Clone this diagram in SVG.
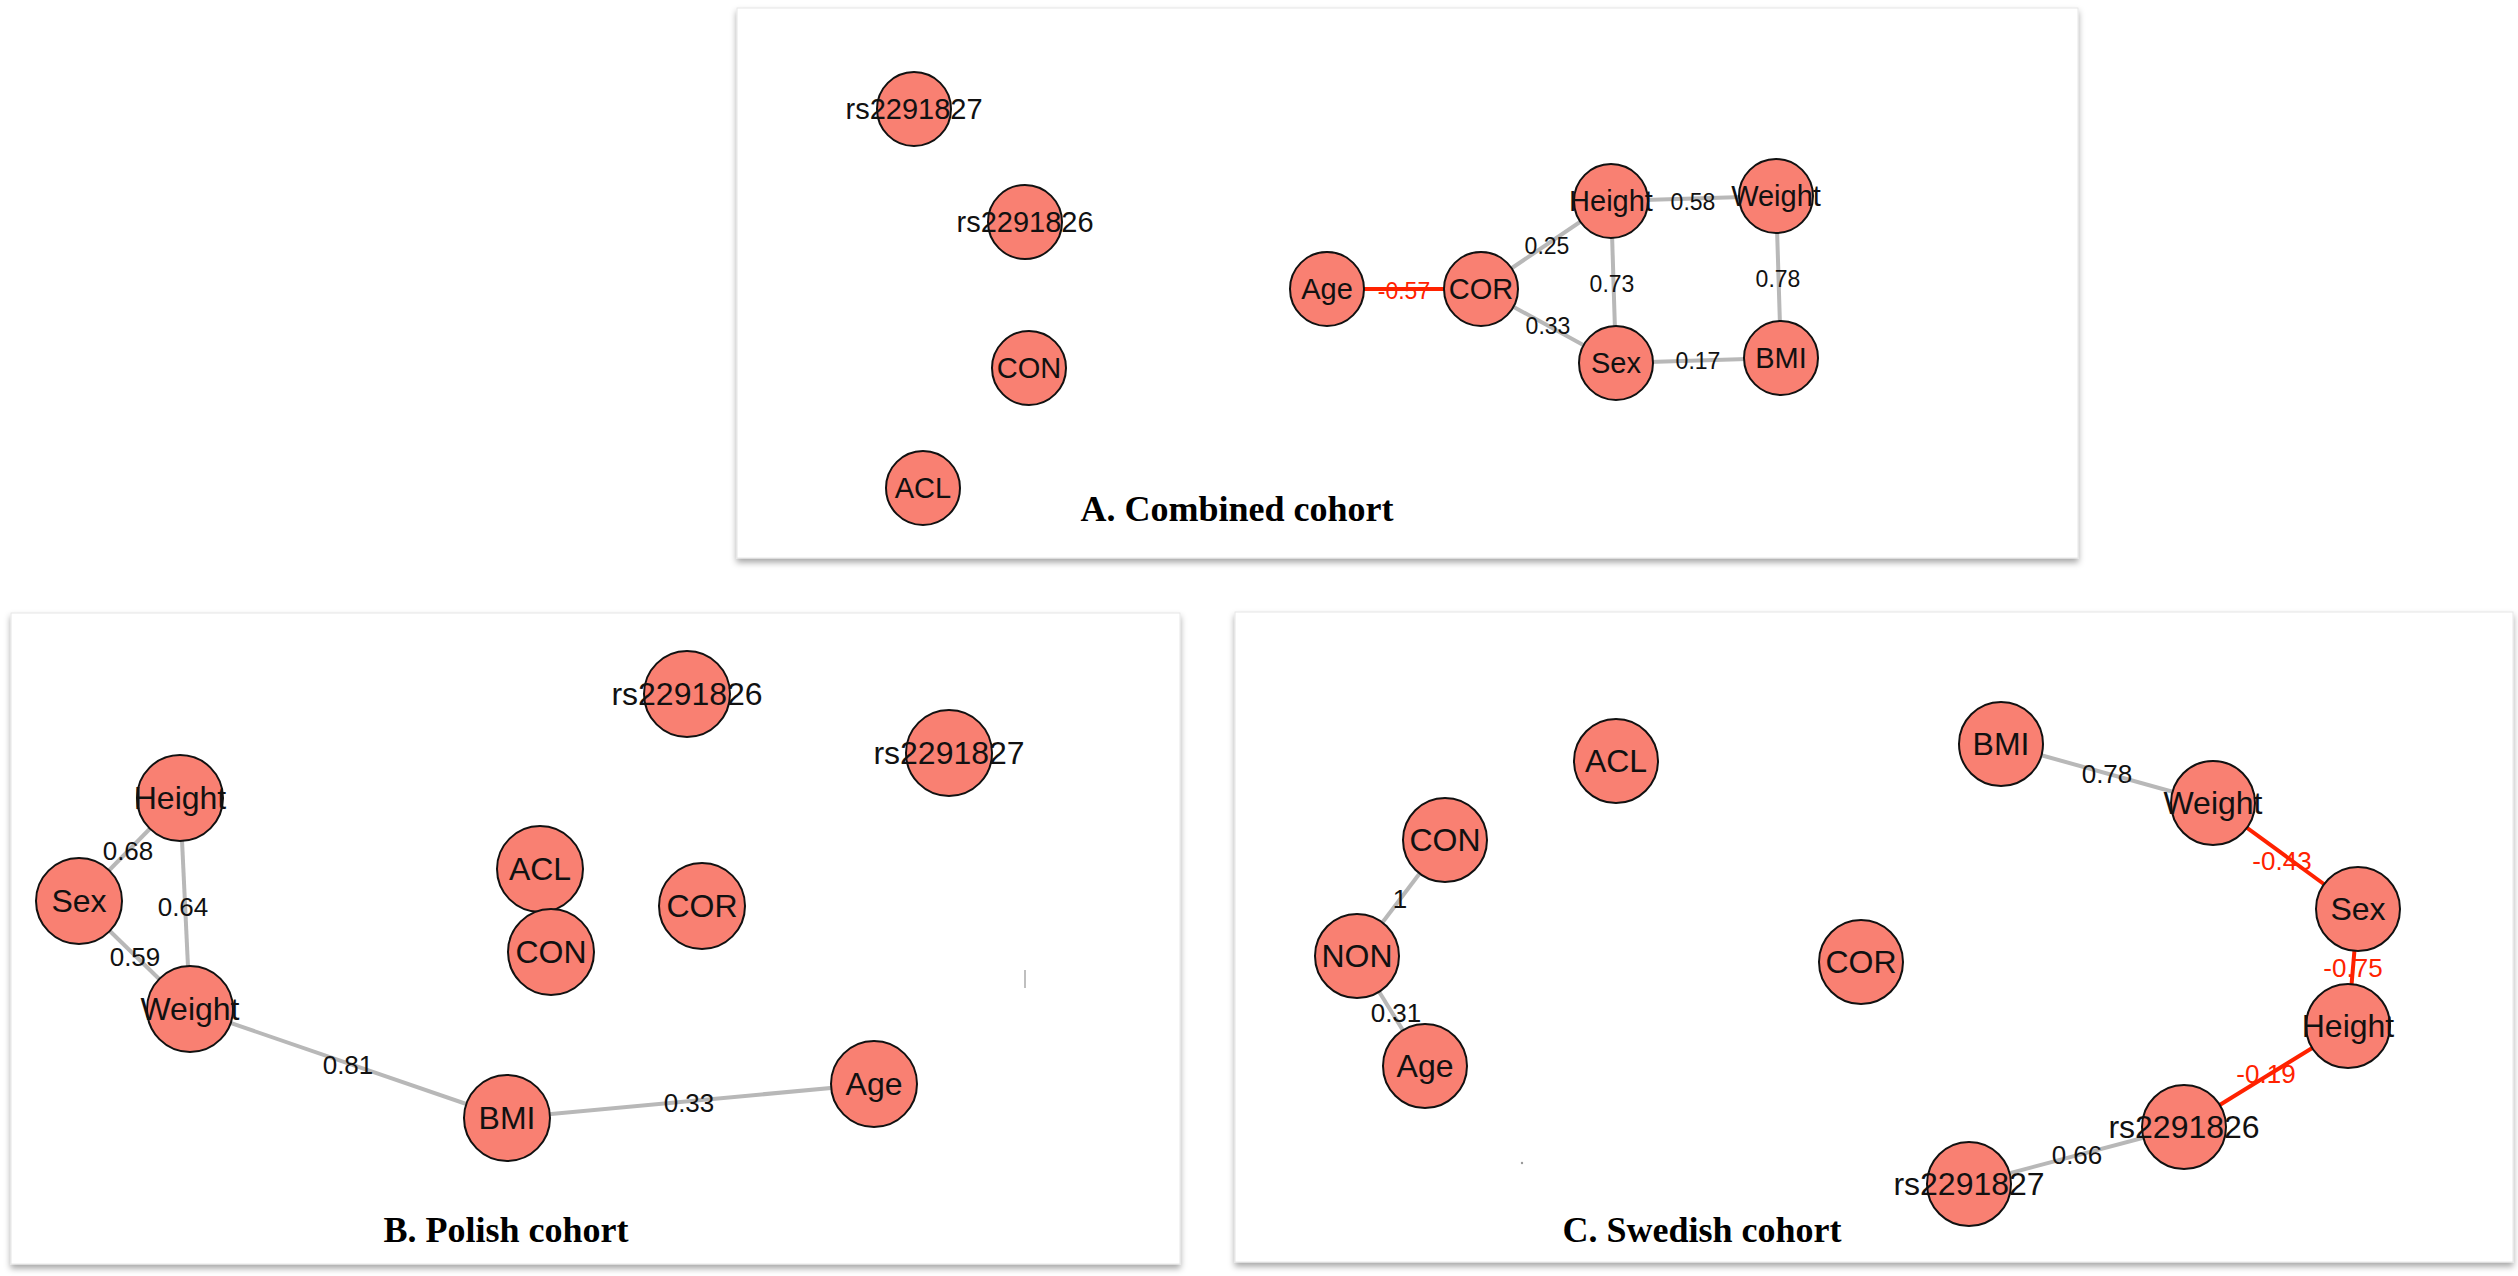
<svg xmlns="http://www.w3.org/2000/svg" width="2518" height="1276" viewBox="0 0 2518 1276">
<defs>
<filter id="sh" x="-5%" y="-5%" width="110%" height="110%"><feDropShadow dx="0" dy="4" stdDeviation="3" flood-color="#000" flood-opacity="0.35"/></filter>
</defs>
<style>
.panel{fill:#fff;stroke:#e6e6e6;stroke-width:1}
.n circle{fill:#f98072;stroke:#111;stroke-width:2}
.n text{font-family:"Liberation Sans",Arial,sans-serif;text-anchor:middle;dominant-baseline:central;fill:#111}
.a text{font-size:29px}.b text{font-size:32px}
.e{stroke:#b8b8b8;stroke-width:4;fill:none}
.r{stroke:#ff2200;stroke-width:4;fill:none}
.lbl{font-family:"Liberation Sans",Arial,sans-serif;font-size:23px;text-anchor:middle;dominant-baseline:central;fill:#111}
.lr{fill:#ff2200}
.title{font-family:"Liberation Serif","Times New Roman",serif;font-weight:bold;font-size:36px;text-anchor:middle;fill:#000}
</style>
<rect width="2518" height="1276" fill="#fff"/>
<rect class="panel" x="737" y="8" width="1341" height="550" filter="url(#sh)"/>
<rect class="panel" x="11" y="613" width="1169" height="651" filter="url(#sh)"/>
<rect class="panel" x="1235" y="612" width="1278" height="650" filter="url(#sh)"/>
<g id="connectors">
<line class="r" x1="1327" y1="289" x2="1481" y2="289"/>
<line class="e" x1="1481" y1="289" x2="1611" y2="201"/>
<line class="e" x1="1481" y1="289" x2="1616" y2="363"/>
<line class="e" x1="1611" y1="201" x2="1776" y2="196"/>
<line class="e" x1="1611" y1="201" x2="1616" y2="363"/>
<line class="e" x1="1776" y1="196" x2="1781" y2="358"/>
<line class="e" x1="1616" y1="363" x2="1781" y2="358"/>
<line class="e" x1="180" y1="798" x2="79" y2="901"/>
<line class="e" x1="180" y1="798" x2="190" y2="1009"/>
<line class="e" x1="79" y1="901" x2="190" y2="1009"/>
<line class="e" x1="190" y1="1009" x2="507" y2="1118"/>
<line class="e" x1="507" y1="1118" x2="874" y2="1084"/>
<line class="e" x1="1445" y1="840" x2="1357" y2="956"/>
<line class="e" x1="1357" y1="956" x2="1425" y2="1066"/>
<line class="e" x1="2001" y1="744" x2="2213" y2="803"/>
<line class="r" x1="2213" y1="803" x2="2358" y2="909"/>
<line class="r" x1="2358" y1="909" x2="2348" y2="1026"/>
<line class="r" x1="2348" y1="1026" x2="2184" y2="1127"/>
<line class="e" x1="2184" y1="1127" x2="1969" y2="1184"/>
</g>
<g id="A-nodes" class="a">
<g id="A-rs2291827" class="n"><circle cx="914" cy="109" r="37"/><text x="914" y="109">rs2291827</text></g>
<g id="A-rs2291826" class="n"><circle cx="1025" cy="222" r="37"/><text x="1025" y="222">rs2291826</text></g>
<g id="A-CON" class="n"><circle cx="1029" cy="368" r="37"/><text x="1029" y="368">CON</text></g>
<g id="A-ACL" class="n"><circle cx="923" cy="488" r="37"/><text x="923" y="488">ACL</text></g>
<g id="A-Age" class="n"><circle cx="1327" cy="289" r="37"/><text x="1327" y="289">Age</text></g>
<g id="A-COR" class="n"><circle cx="1481" cy="289" r="37"/><text x="1481" y="289">COR</text></g>
<g id="A-Height" class="n"><circle cx="1611" cy="201" r="37"/><text x="1611" y="201">Height</text></g>
<g id="A-Weight" class="n"><circle cx="1776" cy="196" r="37"/><text x="1776" y="196">Weight</text></g>
<g id="A-Sex" class="n"><circle cx="1616" cy="363" r="37"/><text x="1616" y="363">Sex</text></g>
<g id="A-BMI" class="n"><circle cx="1781" cy="358" r="37"/><text x="1781" y="358">BMI</text></g>
</g>
<g id="A-labels">
<text class="lbl lr" x="1404" y="291">-0.57</text>
<text class="lbl" x="1547" y="246">0.25</text>
<text class="lbl" x="1693" y="202">0.58</text>
<text class="lbl" x="1612" y="284">0.73</text>
<text class="lbl" x="1778" y="279">0.78</text>
<text class="lbl" x="1548" y="326">0.33</text>
<text class="lbl" x="1698" y="361">0.17</text>
<text class="title" x="1237" y="521">A. Combined cohort</text>
</g>
<g id="B-nodes" class="b">
<g id="B-rs2291826" class="n"><circle cx="687" cy="694" r="43"/><text x="687" y="694">rs2291826</text></g>
<g id="B-rs2291827" class="n"><circle cx="949" cy="753" r="43"/><text x="949" y="753">rs2291827</text></g>
<g id="B-Height" class="n"><circle cx="180" cy="798" r="43"/><text x="180" y="798">Height</text></g>
<g id="B-Sex" class="n"><circle cx="79" cy="901" r="43"/><text x="79" y="901">Sex</text></g>
<g id="B-Weight" class="n"><circle cx="190" cy="1009" r="43"/><text x="190" y="1009">Weight</text></g>
<g id="B-ACL" class="n"><circle cx="540" cy="869" r="43"/><text x="540" y="869">ACL</text></g>
<g id="B-CON" class="n"><circle cx="551" cy="952" r="43"/><text x="551" y="952">CON</text></g>
<g id="B-COR" class="n"><circle cx="702" cy="906" r="43"/><text x="702" y="906">COR</text></g>
<g id="B-BMI" class="n"><circle cx="507" cy="1118" r="43"/><text x="507" y="1118">BMI</text></g>
<g id="B-Age" class="n"><circle cx="874" cy="1084" r="43"/><text x="874" y="1084">Age</text></g>
</g>
<g id="B-labels">
<text class="lbl" x="128" y="851" style="font-size:26px">0.68</text>
<text class="lbl" x="183" y="907" style="font-size:26px">0.64</text>
<text class="lbl" x="135" y="957" style="font-size:26px">0.59</text>
<text class="lbl" x="348" y="1065" style="font-size:26px">0.81</text>
<text class="lbl" x="689" y="1103" style="font-size:26px">0.33</text>
<line x1="1025" y1="970" x2="1025" y2="988" stroke="#aaa" stroke-width="1.5"/>
<text class="title" x="506" y="1242">B. Polish cohort</text>
</g>
<g id="C-nodes" class="b">
<g id="C-ACL" class="n"><circle cx="1616" cy="761" r="42"/><text x="1616" y="761">ACL</text></g>
<g id="C-BMI" class="n"><circle cx="2001" cy="744" r="42"/><text x="2001" y="744">BMI</text></g>
<g id="C-Weight" class="n"><circle cx="2213" cy="803" r="42"/><text x="2213" y="803">Weight</text></g>
<g id="C-Sex" class="n"><circle cx="2358" cy="909" r="42"/><text x="2358" y="909">Sex</text></g>
<g id="C-CON" class="n"><circle cx="1445" cy="840" r="42"/><text x="1445" y="840">CON</text></g>
<g id="C-NON" class="n"><circle cx="1357" cy="956" r="42"/><text x="1357" y="956">NON</text></g>
<g id="C-COR" class="n"><circle cx="1861" cy="962" r="42"/><text x="1861" y="962">COR</text></g>
<g id="C-Height" class="n"><circle cx="2348" cy="1026" r="42"/><text x="2348" y="1026">Height</text></g>
<g id="C-Age" class="n"><circle cx="1425" cy="1066" r="42"/><text x="1425" y="1066">Age</text></g>
<g id="C-rs2291826" class="n"><circle cx="2184" cy="1127" r="42"/><text x="2184" y="1127">rs2291826</text></g>
<g id="C-rs2291827" class="n"><circle cx="1969" cy="1184" r="42"/><text x="1969" y="1184">rs2291827</text></g>
</g>
<g id="C-labels">
<text class="lbl" x="1400" y="899" style="font-size:26px">1</text>
<text class="lbl" x="1396" y="1013" style="font-size:26px">0.31</text>
<text class="lbl" x="2107" y="774" style="font-size:26px">0.78</text>
<text class="lbl lr" x="2282" y="861" style="font-size:26px">-0.43</text>
<text class="lbl lr" x="2353" y="968" style="font-size:26px">-0.75</text>
<text class="lbl lr" x="2266" y="1074" style="font-size:26px">-0.19</text>
<text class="lbl" x="2077" y="1155" style="font-size:26px">0.66</text>
<circle cx="1522" cy="1163" r="1.2" fill="#999"/>
<text class="title" x="1702" y="1242">C. Swedish cohort</text>
</g>
</svg>
